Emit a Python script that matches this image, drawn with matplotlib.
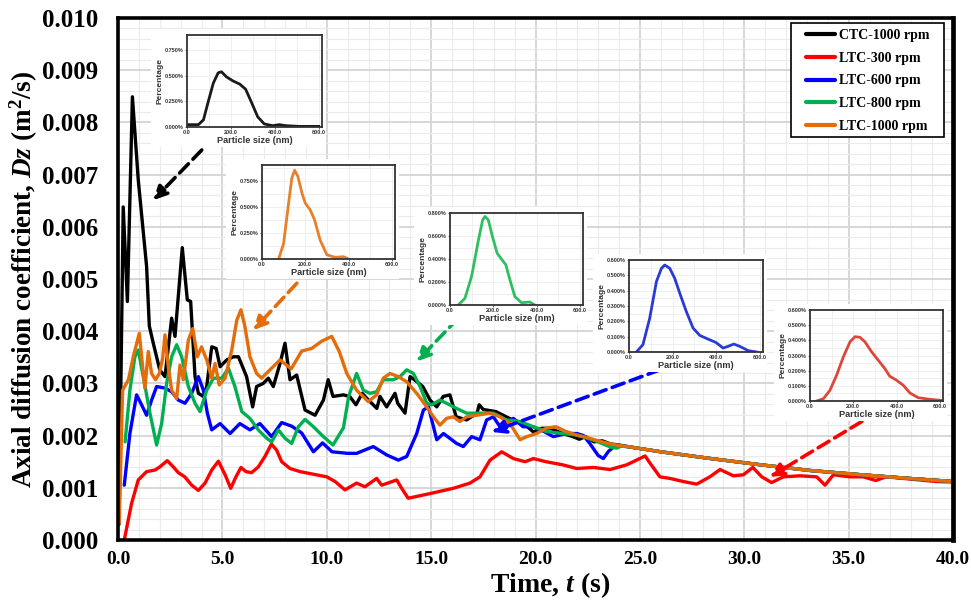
import numpy as np
import matplotlib
matplotlib.use("Agg")
import matplotlib.pyplot as plt
from matplotlib.patches import Rectangle
from matplotlib.ticker import MultipleLocator, AutoMinorLocator, FormatStrFormatter

plt.rcParams["font.family"] = ["Liberation Serif", "DejaVu Serif"]
plt.rcParams["mathtext.fontset"] = "custom"
plt.rcParams["mathtext.rm"] = "Liberation Serif:bold"
plt.rcParams["mathtext.it"] = "Liberation Serif:italic:bold"

# ---- axial diffusion coefficient vs time (Dz in 1e-3 m2/s) ----
ctc1000_t = [0.05, 0.25, 0.45, 0.69, 0.97, 1.37, 1.50, 1.69, 2.00, 2.25, 2.57, 2.73, 3.08,
             3.32, 3.48, 3.69, 3.85, 4.09, 4.25, 4.49, 4.70, 4.89, 5.21, 5.53, 5.77, 6.16,
             6.45, 6.64, 6.96, 7.20, 7.44, 7.76, 8.00, 8.24, 8.56, 8.96, 9.44, 9.84, 10.07,
             10.30, 10.80, 11.10, 11.40, 11.70, 12.00, 12.40, 12.55, 12.87, 13.27, 13.40,
             13.75, 13.99, 14.20, 14.60, 14.95, 15.27, 15.58, 15.90, 16.20, 16.70, 17.20,
             17.30, 17.50, 18.10, 18.90, 19.40, 19.90, 20.30, 20.70, 21.30, 21.80, 22.10,
             22.40, 22.80, 23.20, 23.60, 24.00]
ctc1000_dz = [0.30, 6.38, 4.57, 8.49, 6.90, 5.24, 4.10, 3.77, 3.26, 3.13, 4.25, 3.90, 5.60,
              4.60, 4.57, 3.13, 2.81, 2.75, 2.94, 3.70, 3.67, 3.32, 3.45, 3.51, 3.51, 3.13,
              2.55, 2.94, 3.00, 3.10, 2.94, 3.38, 3.77, 3.07, 3.16, 2.49, 2.39, 2.68, 3.07,
              2.75, 2.78, 2.75, 2.59, 2.81, 2.68, 2.52, 2.75, 2.55, 2.81, 2.62,
              2.43, 3.13, 3.07, 2.94, 2.68, 2.55, 2.75, 2.78, 2.36, 2.30, 2.43,
              2.59, 2.50, 2.46, 2.30, 2.24, 2.07, 2.14, 2.14, 2.04, 1.98, 1.93,
              1.98, 1.88, 1.90, 1.84, 1.82]

ltc300_t = [0.30, 0.65, 0.97, 1.37, 1.77, 2.00, 2.36, 2.65, 2.89, 3.20, 3.53, 3.85, 4.17,
            4.49, 4.81, 5.13, 5.40, 5.65, 5.89, 6.13, 6.40, 6.72, 7.04, 7.35, 7.60, 7.84,
            8.24, 8.72, 9.36, 10.00, 10.40, 10.87, 11.43, 11.83, 12.39, 12.63, 13.35, 13.59,
            13.90, 14.95, 16.06, 16.86, 17.34, 17.82, 18.38, 18.94, 19.50, 19.90, 20.50,
            21.30, 21.97, 22.77, 23.57, 24.37, 25.25, 25.49, 25.96, 26.44, 27.08, 27.72,
            28.35, 28.84, 29.48, 29.96, 30.41, 30.84, 31.31, 31.87, 32.67, 33.47, 33.87,
            34.27, 35.07, 35.70, 36.30, 36.80, 37.60, 38.40, 39.20, 40.00]
ltc300_dz = [0.00, 0.70, 1.15, 1.31, 1.34, 1.40, 1.52, 1.40, 1.29, 1.21, 1.05, 0.95, 1.09,
             1.34, 1.51, 1.25, 0.99, 1.21, 1.39, 1.31, 1.29, 1.40, 1.60, 1.84, 1.72, 1.50,
             1.37, 1.31, 1.26, 1.21, 1.12, 0.96, 1.09, 1.02, 1.18, 1.05, 1.15, 0.99,
             0.80, 0.89, 0.99, 1.09, 1.21, 1.53, 1.69, 1.56, 1.50, 1.56, 1.50,
             1.44, 1.37, 1.39, 1.35, 1.44, 1.61, 1.47, 1.21, 1.18, 1.12, 1.07,
             1.21, 1.35, 1.23, 1.25, 1.39, 1.21, 1.10, 1.21, 1.23, 1.21, 1.05,
             1.25, 1.21, 1.21, 1.14, 1.21, 1.18, 1.15, 1.12, 1.11]

ltc600_t = [0.30, 0.57, 0.89, 1.13, 1.37, 1.61, 1.85, 2.25, 2.57, 2.89, 3.21, 3.53, 3.85,
            4.09, 4.28, 4.49, 4.89, 5.37, 5.84, 6.32, 6.80, 7.36, 7.84, 8.32, 8.80, 9.36,
            9.80, 10.25, 11.00, 11.43, 12.23, 12.87, 13.43, 13.83, 14.31, 14.63, 14.87,
            15.03, 15.27, 15.59, 16.22, 16.54, 16.94, 17.34, 17.66, 17.98, 18.30, 18.94,
            19.40, 19.90, 20.40, 20.85, 21.50, 21.98, 22.30, 22.60, 23.00, 23.25, 23.50,
            23.80, 24.00]
ltc600_dz = [1.05, 2.04, 2.78, 2.59, 2.39, 2.68, 2.94, 2.91, 2.84, 2.68, 2.62, 2.81, 3.13,
             2.87, 2.43, 2.11, 2.23, 2.04, 2.23, 2.11, 2.23, 1.98, 2.25, 2.18, 2.05, 1.69,
             1.86, 1.69, 1.66, 1.66, 1.79, 1.63, 1.53, 1.60, 2.04, 2.49, 2.55,
             2.30, 1.92, 2.04, 1.85, 1.79, 1.98, 1.92, 2.30, 2.36, 2.17, 2.33,
             2.17, 2.17, 2.08, 1.98, 2.04, 2.04, 2.00, 1.85, 1.62, 1.56, 1.70,
             1.80, 1.80]

ltc800_t = [0.34, 0.57, 0.81, 0.97, 1.21, 1.53, 1.85, 2.09, 2.33, 2.57, 2.81, 3.05, 3.37,
            3.69, 3.93, 4.25, 4.57, 4.97, 5.29, 5.60, 5.93, 6.32, 6.72, 7.12, 7.36, 7.68,
            8.00, 8.32, 8.64, 8.96, 9.36, 9.84, 10.30, 10.80, 11.05, 11.43, 11.75, 12.07,
            12.39, 12.71, 13.19, 13.51, 13.83, 14.15, 14.47, 14.79, 15.03, 15.42, 15.74,
            16.22, 16.70, 17.34, 17.98, 18.62, 19.26, 19.90, 20.50, 21.30, 21.98, 22.50,
            23.00, 23.60, 23.90, 24.10]
ltc800_dz = [1.88, 2.87, 3.51, 3.64, 3.13, 2.43, 1.82, 2.23, 3.00, 3.51, 3.74, 3.51, 2.94,
             2.62, 2.46, 2.87, 3.10, 3.10, 3.29, 2.94, 2.46, 2.33, 2.11, 1.95, 1.88, 2.11,
             1.95, 1.85, 2.17, 2.31, 2.17, 1.98, 1.82, 2.15, 2.75, 3.19, 2.87, 2.81,
             2.84, 3.07, 3.07, 3.13, 3.26, 3.19, 2.94, 2.62, 2.59, 2.68, 2.62,
             2.52, 2.43, 2.43, 2.43, 2.30, 2.27, 2.17, 2.08, 2.04, 2.01, 1.95,
             1.88, 1.78, 1.76, 1.80]

ltc1000_t = [0.06, 0.22, 0.50, 0.73, 1.02, 1.18, 1.29, 1.45, 1.61, 1.80, 1.98, 2.14, 2.25,
             2.41, 2.57, 2.81, 2.97, 3.13, 3.37, 3.58, 3.80, 4.00, 4.25, 4.49, 4.65, 4.85,
             5.13, 5.45, 5.69, 5.89, 6.08, 6.32, 6.64, 6.88, 7.28, 7.76, 8.30, 8.80, 9.28,
             9.76, 10.24, 10.60, 10.96, 11.43, 11.99, 12.39, 12.71, 13.03, 13.43, 13.83,
             14.31, 14.79, 15.11, 15.42, 15.74, 16.06, 16.38, 16.70, 17.18, 17.82, 18.30,
             18.78, 19.26, 19.58, 20.05, 20.50, 20.98, 21.46, 21.98, 22.50, 23.00, 23.60,
             24.00]
ltc1000_dz = [0.32, 2.87, 3.07, 3.51, 3.96, 3.32, 2.91, 3.61, 3.19, 3.07, 3.19, 3.48, 3.93,
              3.32, 2.87, 2.71, 3.35, 3.07, 3.83, 4.05, 3.51, 3.70, 3.45, 3.10, 3.38, 2.97,
              3.10, 3.64, 4.21, 4.41, 4.09, 3.51, 3.19, 3.10, 3.26, 3.45, 3.28, 3.62, 3.67,
              3.81, 3.90, 3.61, 3.19, 2.87, 2.65, 2.78, 3.10, 3.19, 3.13, 3.03,
              2.81, 2.55, 2.36, 2.20, 2.33, 2.36, 2.27, 2.36, 2.39, 2.43, 2.36,
              2.23, 1.92, 1.98, 2.04, 2.14, 2.17, 2.08, 2.01, 1.96, 1.90, 1.84,
              1.81]

# after ~24 s the CTC and LTC-600/800/1000 curves run together
tail_t = [24.4, 26.0, 28.4, 30.8, 33.2, 35.6, 37.9, 40.0]
tail_dz = [1.79, 1.69, 1.56, 1.44, 1.33, 1.25, 1.18, 1.12]

labels = ["CTC-1000 rpm", "LTC-300 rpm", "LTC-600 rpm", "LTC-800 rpm", "LTC-1000 rpm"]
colors = ["#000000", "#ff0000", "#0000ff", "#00b050", "#e46c0a"]

# ---- particle size distributions (size in nm, percentage in %) ----
psd_ctc1000_size = [0, 52, 75, 97, 120, 142, 157, 180, 210, 240, 267, 292, 322, 352, 390,
                    420, 450, 510, 600]
psd_ctc1000_pct = [0.023, 0.023, 0.07, 0.25, 0.43, 0.53, 0.54, 0.49, 0.45, 0.42, 0.37,
                   0.25, 0.10, 0.03, 0.013, 0.023, 0.013, 0.006, 0.006]
psd_ltc1000_size = [77, 100, 123, 138, 151, 166, 185, 200, 223, 243, 269, 300, 338, 377, 400]
psd_ltc1000_pct = [0.0, 0.15, 0.535, 0.776, 0.85, 0.79, 0.63, 0.535, 0.47, 0.375, 0.18,
                   0.04, 0.016, 0.022, 0.0]
psd_ltc800_size = [38, 69, 100, 131, 151, 162, 177, 197, 218, 238, 258, 277, 300, 331, 369, 392]
psd_ltc800_pct = [0.0, 0.058, 0.25, 0.56, 0.74, 0.77, 0.74, 0.59, 0.45, 0.40, 0.35, 0.22,
                  0.072, 0.02, 0.026, 0.0]
psd_ltc600_size = [34, 64, 95, 126, 149, 164, 187, 210, 233, 263, 294, 325, 363, 398, 432,
                   455, 481, 508, 547, 585]
psd_ltc600_pct = [0.0, 0.048, 0.22, 0.46, 0.546, 0.567, 0.546, 0.48, 0.383, 0.264, 0.156,
                  0.108, 0.084, 0.063, 0.026, 0.037, 0.052, 0.037, 0.009, 0.0]
psd_ltc300_size = [31, 62, 92, 123, 154, 185, 208, 231, 254, 285, 315, 346, 369, 400, 431,
                   462, 500, 554, 608]
psd_ltc300_pct = [0.0, 0.015, 0.07, 0.17, 0.29, 0.39, 0.424, 0.42, 0.39, 0.324, 0.27, 0.214,
                  0.163, 0.137, 0.104, 0.053, 0.022, 0.011, 0.004]

W, H = 971, 600
AX_L, AX_T, AX_R, AX_B = 118, 18, 953, 540
fig = plt.figure(figsize=(W / 100, H / 100), dpi=100)
ax = fig.add_axes([AX_L / W, 1 - AX_B / H, (AX_R - AX_L) / W, (AX_B - AX_T) / H])


def px_to_axes(x, y):
    return (x - AX_L) / (AX_R - AX_L), (AX_B - y) / (AX_B - AX_T)


series = [(ctc1000_t, ctc1000_dz, True), (ltc300_t, ltc300_dz, False),
          (ltc600_t, ltc600_dz, True), (ltc800_t, ltc800_dz, True),
          (ltc1000_t, ltc1000_dz, True)]
for (t, dz, merge), lab, c in zip(series, labels, colors):
    t = list(t) + (tail_t if merge else [])
    dz = list(dz) + (tail_dz if merge else [])
    ax.plot(t, np.array(dz) * 1e-3, color=c, lw=2.4, label=lab,
            solid_joinstyle="round", solid_capstyle="round")

ax.set_xlim(0, 40)
ax.set_ylim(0, 0.010)
ax.xaxis.set_major_locator(MultipleLocator(5))
ax.yaxis.set_major_locator(MultipleLocator(0.001))
ax.xaxis.set_minor_locator(AutoMinorLocator(5))
ax.yaxis.set_minor_locator(AutoMinorLocator(5))
ax.xaxis.set_major_formatter(FormatStrFormatter("%.1f"))
ax.yaxis.set_major_formatter(FormatStrFormatter("%.3f"))
ax.grid(which="major", color="#d4d4d4", lw=1.3)
ax.grid(which="minor", color="#ebebeb", lw=0.8)
ax.set_axisbelow(True)
ax.tick_params(which="both", length=0)
ax.tick_params(axis="x", pad=8, labelsize=14)
ax.tick_params(axis="y", pad=14, labelsize=18)
for lbl in ax.get_xticklabels() + ax.get_yticklabels():
    lbl.set_fontweight("bold")
for sp in ax.spines.values():
    sp.set_linewidth(2.6)
ax.spines["right"].set_linewidth(3.4)

ax.set_xlabel("Time, $\\mathit{t}$ (s)", fontsize=20, fontweight="bold")
ax.xaxis.set_label_coords(0.518, -0.058)
ax.set_ylabel("Axial diffusion coefficient, $\\mathit{Dz}$ (m$^{2}$/s)",
              fontsize=19.5, fontweight="bold")
ax.yaxis.set_label_coords(-0.093, 0.5)

# legend box drawn separately so its padding can be set per side
fx, fy = px_to_axes(791, 137)
fx2, fy2 = px_to_axes(944, 23)
ax.add_patch(Rectangle((fx, fy), fx2 - fx, fy2 - fy, transform=ax.transAxes,
                       facecolor="white", edgecolor="black", lw=1.2, zorder=4))
leg = ax.legend(loc="upper left", bbox_to_anchor=px_to_axes(806, 29), frameon=False,
                borderaxespad=0, borderpad=0, handlelength=2.1, handletextpad=0.25,
                labelspacing=0.7,
                prop={"family": "Liberation Serif", "weight": "bold", "size": 10})
leg.set_zorder(5)
for h in leg.get_lines():
    h.set_linewidth(3)

# dashed arrows pointing from each inset to its curve (tail -> head in data units)
arrows = [((4.01, 0.00747), (1.69, 0.00651), colors[0]),
          ((8.57, 0.00492), (6.48, 0.00402), colors[4]),
          ((16.3, 0.00425), (14.31, 0.00342), colors[3]),
          ((25.96, 0.00326), (17.9, 0.00207), colors[2]),
          ((35.63, 0.00227), (31.23, 0.00121), colors[1])]
for tail, head, c in arrows:
    ax.annotate("", xy=head, xytext=tail,
                arrowprops=dict(arrowstyle="-|>,head_length=0.8,head_width=0.4",
                                color=c, lw=2.6, linestyle=(0, (3.5, 1.8)),
                                shrinkA=0, shrinkB=0))


def add_inset(box, size, pct, color, ymax, ystep):
    left, top, right, bottom = box
    bg = Rectangle(((left - 36) / W, 1 - (bottom + 20) / H),
                   (right - left + 40) / W, (bottom - top + 26) / H,
                   transform=fig.transFigure, facecolor="white", edgecolor="none",
                   zorder=1)
    fig.patches.append(bg)
    iax = fig.add_axes([left / W, 1 - bottom / H, (right - left) / W, (bottom - top) / H])
    iax.set_zorder(2)
    iax.plot(size, pct, color=color, lw=2.0)
    iax.set_xlim(0, 615)
    iax.set_ylim(0, ymax)
    iax.set_xticks([0, 200, 400, 600])
    iax.set_yticks(np.arange(0, ymax + 1e-9, ystep))
    iax.xaxis.set_minor_locator(AutoMinorLocator(2))
    iax.yaxis.set_minor_locator(AutoMinorLocator(2))
    iax.xaxis.set_major_formatter(FormatStrFormatter("%.1f"))
    iax.yaxis.set_major_formatter(FormatStrFormatter("%.3f%%"))
    iax.grid(which="both", color="#ececec", lw=0.6)
    iax.set_axisbelow(True)
    iax.tick_params(which="major", length=1.5, width=0.5, pad=1, labelsize=4.0,
                    colors="#333333")
    iax.tick_params(which="minor", length=0)
    for lbl in iax.get_xticklabels() + iax.get_yticklabels():
        lbl.set_family(["Liberation Sans", "DejaVu Sans"])
        lbl.set_fontweight("bold")
    for sp in iax.spines.values():
        sp.set_linewidth(1.3)
        sp.set_color("#333333")
    iax.set_xlabel("Particle size (nm)", fontsize=6.6, fontweight="bold",
                   family=["Liberation Sans", "DejaVu Sans"], color="#333333", labelpad=0.5)
    iax.set_ylabel("Percentage", fontsize=6.0, fontweight="bold",
                   family=["Liberation Sans", "DejaVu Sans"], color="#333333", labelpad=1)
    return iax


add_inset((187, 35, 322, 127), psd_ctc1000_size, psd_ctc1000_pct, "#1a1a1a", 0.9, 0.25)
add_inset((262, 165, 395, 259), psd_ltc1000_size, psd_ltc1000_pct, "#e8802a", 0.9, 0.25)
add_inset((450, 213, 583, 305), psd_ltc800_size, psd_ltc800_pct, "#2fbf60", 0.8, 0.2)
add_inset((629, 260, 763, 352), psd_ltc600_size, psd_ltc600_pct, "#2a3ad8", 0.6, 0.1)
add_inset((810, 310, 943, 401), psd_ltc300_size, psd_ltc300_pct, "#e0453a", 0.6, 0.1)

fig.savefig("out.png", dpi=100)
